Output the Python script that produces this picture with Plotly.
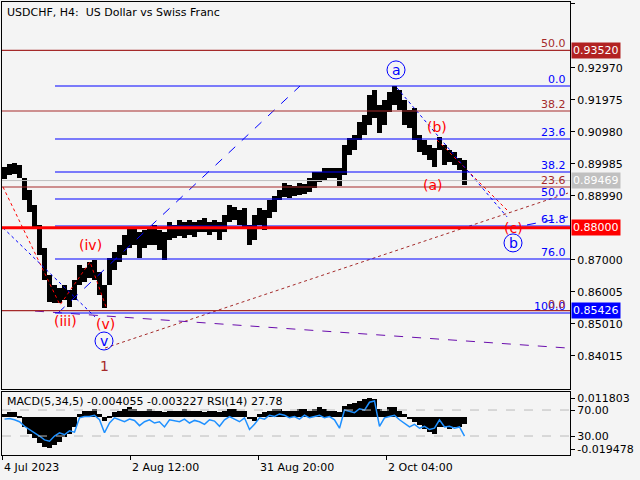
import plotly.graph_objects as go

# ---- data (H4 bars, grouped by 5 bars) ----
bar_x = [5 * i + 2.5 for i in range(93)]
high = [.8989,.8999,.9002,.8996,.8955,.8918,.8871,.8809,.8737,.8654,
        .8623,.8613,.8623,.8607,.8638,.8684,.8675,.8693,.8700,.8662,
        .8622,.8706,.8725,.8747,.8778,.8800,.8800,.8787,.8793,.8800,
        .8809,.8793,.8787,.8818,.8809,.8824,.8818,.8824,.8818,.8824,
        .8831,.8818,.8824,.8818,.8840,.8871,.8864,.8855,.8862,.8809,
        .8840,.8862,.8855,.8886,.8899,.8918,.8939,.8933,.8930,.8939,
        .8936,.8955,.8974,.8974,.8986,.8986,.8986,.8986,.9058,.9080,
        .9089,.9129,.9151,.9213,.9229,.9182,.9198,.9222,.9241,.9229,
        .9198,.9167,.9173,.9089,.9073,.9058,.9048,.9082,.9058,.9042,
        .9036,.9017,.9011]
low = [.8952,.8964,.8968,.8955,.8886,.8849,.8799,.8716,.8638,.8570,
       .8566,.8566,.8575,.8554,.8575,.8622,.8631,.8644,.8638,.8591,
       .8551,.8622,.8669,.8694,.8716,.8738,.8747,.8706,.8738,.8747,
       .8747,.8731,.8700,.8762,.8768,.8774,.8768,.8778,.8771,.8787,
       .8787,.8778,.8787,.8762,.8787,.8818,.8824,.8809,.8800,.8747,
       .8762,.8809,.8793,.8831,.8849,.8886,.8896,.8893,.8899,.8902,
       .8905,.8911,.8924,.8942,.8949,.8955,.8955,.8930,.8964,.9027,
       .9042,.9073,.9089,.9120,.9142,.9095,.9120,.9160,.9182,.9167,
       .9120,.9111,.9073,.9036,.9027,.9011,.8989,.9042,.8996,.9005,
       .8996,.8980,.8933]
macd = [.002,.003,.003,.001,-.006,-.010,-.013,-.016,-.018,-.019,
        -.017,-.015,-.012,-.010,-.006,.002,.004,.004,.005,.002,
        -.002,.001,.003,.004,.005,.006,.005,.004,.004,.005,
        .004,.004,.003,.004,.004,.004,.005,.004,.004,.004,
        .003,.004,.004,.003,.004,.005,.005,.004,.004,-.001,
        -.002,.002,.003,.004,.005,.005,.004,.004,.004,.005,
        .005,.004,.005,.006,.005,.004,.004,.003,.007,.008,
        .009,.010,.011,.012,.011,.005,.004,.006,.006,.004,
        .002,-.001,-.003,-.005,-.007,-.009,-.010,-.006,-.006,-.007,
        -.006,-.006,-.004]
rsi = [56,57,55,52,45,40,36,30,24,22,
       30,35,32,38,36,58,60,60,62,55,
       35,50,58,55,52,56,54,46,52,55,
       50,52,44,55,53,52,56,50,54,52,
       48,55,53,45,55,60,56,52,58,40,
       48,58,56,62,60,64,62,58,60,56,
       62,58,60,62,58,60,55,42,70,68,
       66,72,70,82,84,45,58,60,62,55,
       50,44,48,42,45,40,42,55,44,45,
       42,44,30]

price_ticks = [0.94960,0.92970,0.91975,0.90980,0.89985,0.88990,0.87000,0.86005,0.85010,0.84015]
time_ticks = [0,128,256,384]
time_labels = ["4 Jul 2023","2 Aug 12:00","31 Aug 20:00","2 Oct 04:00"]

fib_blue_lv = [0.92410,0.90762,0.89735,0.88896,0.88056,0.87030,0.85350]
fib_blue_tx = ["0.0","23.6","38.2","50.0","61.8","76.0","100.0"]
fib_brown_lv = [0.93520,0.91632,0.89269,0.85426]
fib_brown_tx = ["50.0","38.2","23.6","0.0"]
last_price = 0.89469
support = 0.88000

red_w1 = ([1,58,88,104],[.8927,.8560,.8694,.8554])
red_w2 = ([435,508],[.9073,.8846])
blue_d1 = ([1,93],[.8800,.8523])
blue_d2 = ([395,505],[.9235,.8834])
blue_l1 = ([56,298],[.8535,.9241])
blue_l2 = ([525,566],[.8809,.8834])
brown_l = ([103,566],[.8426,.8908])
purple_l = ([33,566],[.8541,.8426])

BG = "#f4f4f4"
FONT = "DejaVu Sans"
fig = go.Figure()
fig.add_trace(go.Bar(x=bar_x, y=[h-l for h,l in zip(high,low)], base=low, width=4.3,
                     marker=dict(color="black", line=dict(width=0)), xaxis="x", yaxis="y"))
def ln(p, color, dash, w=1):
    fig.add_trace(go.Scatter(x=p[0], y=p[1], mode="lines", line=dict(color=color, dash=dash, width=w),
                             xaxis="x", yaxis="y", hoverinfo="skip"))
ln(red_w1, "red", "dot"); ln(red_w2, "red", "dot")
ln(blue_d1, "blue", "dot"); ln(blue_d2, "blue", "dot")
ln(blue_l1, "blue", "dash"); ln(blue_l2, "blue", "dash")
ln(brown_l, "#a52a2a", "dot"); ln(purple_l, "#6a0dad", "dash")

fig.add_trace(go.Bar(x=bar_x, y=macd, width=5, marker=dict(color="black", line=dict(width=0)),
                     xaxis="x2", yaxis="y2"))
fig.add_trace(go.Scatter(x=bar_x, y=rsi, mode="lines", line=dict(color="#1e90ff", width=1.5),
                         xaxis="x2", yaxis="y3"))

shapes = []
for lv in fib_brown_lv:
    shapes.append(dict(type="line", xref="paper", x0=0, x1=1, yref="y", y0=lv, y1=lv,
                       line=dict(color="#a52a2a", width=1.2)))
for lv in fib_blue_lv:
    shapes.append(dict(type="line", xref="x", x0=53, x1=568, yref="y", y0=lv, y1=lv,
                       line=dict(color="blue", width=1.2)))
shapes.append(dict(type="line", xref="paper", x0=0, x1=1, yref="y", y0=last_price, y1=last_price,
                   line=dict(color="#c0c0c0", width=1)))
shapes.append(dict(type="line", xref="paper", x0=0, x1=1, yref="y", y0=support, y1=support,
                   line=dict(color="red", width=3)))
for v in [70, 30]:
    shapes.append(dict(type="line", xref="paper", x0=0, x1=1, yref="y3", y0=v, y1=v,
                       line=dict(color="#bbbbbb", width=1, dash="dash")))

ann = []
for lv, t in zip(fib_blue_lv, fib_blue_tx):
    ann.append(dict(x=0.997, xref="paper", y=lv, yref="y", text=t, showarrow=False, xanchor="right",
                    yanchor="bottom", font=dict(color="blue", size=11, family=FONT), yshift=-2))
for lv, t in zip(fib_brown_lv, fib_brown_tx):
    ann.append(dict(x=0.997, xref="paper", y=lv, yref="y", text=t, showarrow=False, xanchor="right",
                    yanchor="bottom", font=dict(color="#a52a2a", size=11, family=FONT), yshift=-2))
waves = [(394,.9291,"a","blue",True),(435,.9113,"(b)","red",False),(431,.8933,"(a)","red",False),
         (511,.8800,"(c)","red",False),(511,.8753,"b","blue",True),(88,.8747,"(iv)","red",False),
         (63,.8510,"(iii)","red",False),(103,.8501,"(v)","red",False),(102,.8448,"v","blue",True),
         (102,.8370,"1","#a52a2a",False)]
for x, y, t, c, circ in waves:
    ann.append(dict(x=x, y=y, xref="x", yref="y", text=t, showarrow=False,
                    font=dict(color=c, size=14, family=FONT)))
    if circ:
        shapes.append(dict(type="circle", xref="x", yref="y", xsizemode="pixel", ysizemode="pixel",
                           xanchor=x, yanchor=y, x0=-9, x1=9, y0=-9, y1=9, line=dict(color="blue", width=1)))
boxes = [(0.93520,"#b22222"),(last_price,"#c0c0c0"),(support,"red"),(0.85426,"blue")]
for v, c in boxes:
    ann.append(dict(x=1, xref="paper", y=v, yref="y", text=f"{v:.5f}", showarrow=False, xanchor="left",
                    xshift=1, bgcolor=c, font=dict(color="white", size=11, family=FONT), borderpad=1))
for t, lab in zip(time_ticks, time_labels):
    ann.append(dict(x=t, xref="x2", y=0, yref="paper", text=lab, showarrow=False, xanchor="left",
                    yanchor="top", yshift=-4, font=dict(color="black", size=11, family=FONT)))
ann.append(dict(x=0.005, xref="paper", y=1, yref="paper", text="USDCHF, H4:  US Dollar vs Swiss Franc",
                showarrow=False, xanchor="left", yanchor="top", yshift=-2, font=dict(size=11, color="black", family=FONT)))
ann.append(dict(x=0.005, xref="paper", y=0.139, yref="paper", text="MACD(5,34,5) -0.004055 -0.003227 RSI(14) 27.78",
                showarrow=False, xanchor="left", yanchor="top", yshift=-1, font=dict(size=11, color="black", family=FONT)))

ax = dict(showgrid=False, zeroline=False, linecolor="black", mirror=True, showline=True, automargin=False,
          tickfont=dict(family=FONT, size=11, color="black"), ticks="outside", ticklen=4, tickcolor="black")
fig.update_layout(
    width=640, height=480, margin=dict(l=2, r=70, t=2, b=25), paper_bgcolor=BG, plot_bgcolor=BG,
    showlegend=False, bargap=0, shapes=shapes, annotations=ann,
    xaxis=dict(ax, domain=[0,1], range=[0,568], anchor="y", showticklabels=False, ticks=""),
    yaxis=dict(ax, domain=[0.1457,1], range=[0.82987,0.95022], side="right", tickvals=price_ticks,
               ticktext=[f"{v:.5f}" for v in price_ticks]),
    xaxis2=dict(ax, domain=[0,1], range=[0,568], anchor="y2", tickvals=time_ticks, showticklabels=False),
    yaxis2=dict(ax, domain=[0,0.139], range=[-0.02314,0.015481], side="right", anchor="x2",
                tickvals=[0.011803,-0.019478], ticktext=["0.011803","-0.019478"]),
    yaxis3=dict(ax, overlaying="y2", range=[0.79,97.7], side="right", anchor="x2",
                tickvals=[70,30], ticktext=["70.00","30.00"]),
)
fig.write_html("out.html", config={"displayModeBar": False},
               post_script="document.body.style.margin='0';document.body.style.background='#f4f4f4';")
